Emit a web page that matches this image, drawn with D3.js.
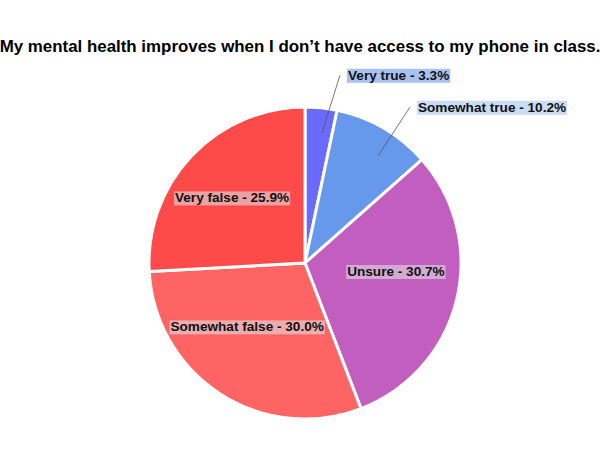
<!DOCTYPE html>
<html>
<head>
<meta charset="utf-8">
<script src="https://cdn.jsdelivr.net/npm/d3@7"></script>
<style>
  body { margin: 0; background: #fff; }
  text { font-family: "Liberation Sans", Arial, sans-serif; }
</style>
</head>
<body>
<div id="pie"></div>
<script>
var width = 600, height = 450;

// data
var categories = ["Very true", "Somewhat true", "Unsure", "Somewhat false", "Very false"];
var values = [3.3, 10.2, 30.7, 30.0, 25.9];
var colors = ["#6a6aff", "#6699ec", "#c35ec1", "#ff6464", "#ff4a4a"];
var title = "My mental health improves when I don\u2019t have access to my phone in class.";

var cx = 305, cy = 263, radius = 156;

var svg = d3.select('#pie').append('svg')
    .attr('width', width)
    .attr('height', height);

// title
svg.append('text')
    .attr('x', width / 2)
    .attr('y', 52)
    .attr('text-anchor', 'middle')
    .style('font-size', '16.9px')
    .style('font-weight', 'bold')
    .attr('fill', '#000')
    .text(title);

var data = categories.map(function(c, i) { return {name: c, value: values[i], color: colors[i]}; });

var pie = d3.pie()
    .sort(null)
    .value(function(d) { return d.value; });

var arc = d3.arc()
    .innerRadius(0)
    .outerRadius(radius);

var labelArc = d3.arc()
    .innerRadius(radius * 0.6)
    .outerRadius(radius * 0.6);

var g = svg.append('g')
    .attr('transform', 'translate(' + cx + ',' + cy + ')');

var arcs = pie(data);

g.selectAll('.slice')
    .data(arcs)
    .enter().append('path')
      .attr('class', 'slice')
      .attr('d', arc)
      .attr('fill', function(d) { return d.data.color; })
      .attr('stroke', '#fff')
      .attr('stroke-width', 3)
      .attr('stroke-linejoin', 'round');

// small slices get labels outside with a leader line (offsets from pie centre)
var outside = {"Very true": {from: [17, -130], to: [35, -188], bg: "#a8c2f3"},
               "Somewhat true": {from: [73, -107], to: [105, -156], bg: "#cbdcf6"}};
// nudges for the inside labels
var nudge = {"Unsure": [0, -14], "Somewhat false": [-7, -15], "Very false": [-5, -1]};

function label(d) { return d.data.name + ' - ' + d.data.value.toFixed(1) + '%'; }

arcs.forEach(function(d) {
  var o = outside[d.data.name];
  var lg = g.append('g');
  var t;
  if (o) {
    lg.append('line')
        .attr('x1', o.from[0]).attr('y1', o.from[1])
        .attr('x2', o.to[0]).attr('y2', o.to[1])
        .attr('stroke', '#555')
        .attr('stroke-width', 0.8);
    t = lg.append('text')
        .attr('x', o.to[0] + 8)
        .attr('y', o.to[1])
        .attr('dy', '0.35em')
        .attr('text-anchor', 'start');
  } else {
    var c = labelArc.centroid(d);
    var n = nudge[d.data.name] || [0, 0];
    t = lg.append('text')
        .attr('x', c[0] + n[0])
        .attr('y', c[1] + n[1])
        .attr('dy', '0.35em')
        .attr('text-anchor', 'middle');
  }
  t.style('font-size', '13.6px')
   .style('font-weight', 'bold')
   .attr('fill', '#111')
   .text(label(d));
  var bb = t.node().getBBox();
  lg.insert('rect', 'text')
      .attr('x', bb.x - 1)
      .attr('y', bb.y + 1)
      .attr('width', bb.width + 2)
      .attr('height', bb.height - 1)
      .attr('fill', o ? o.bg : '#dddddd')
      .attr('fill-opacity', o ? 1 : 0.6);
});
</script>
</body>
</html>
